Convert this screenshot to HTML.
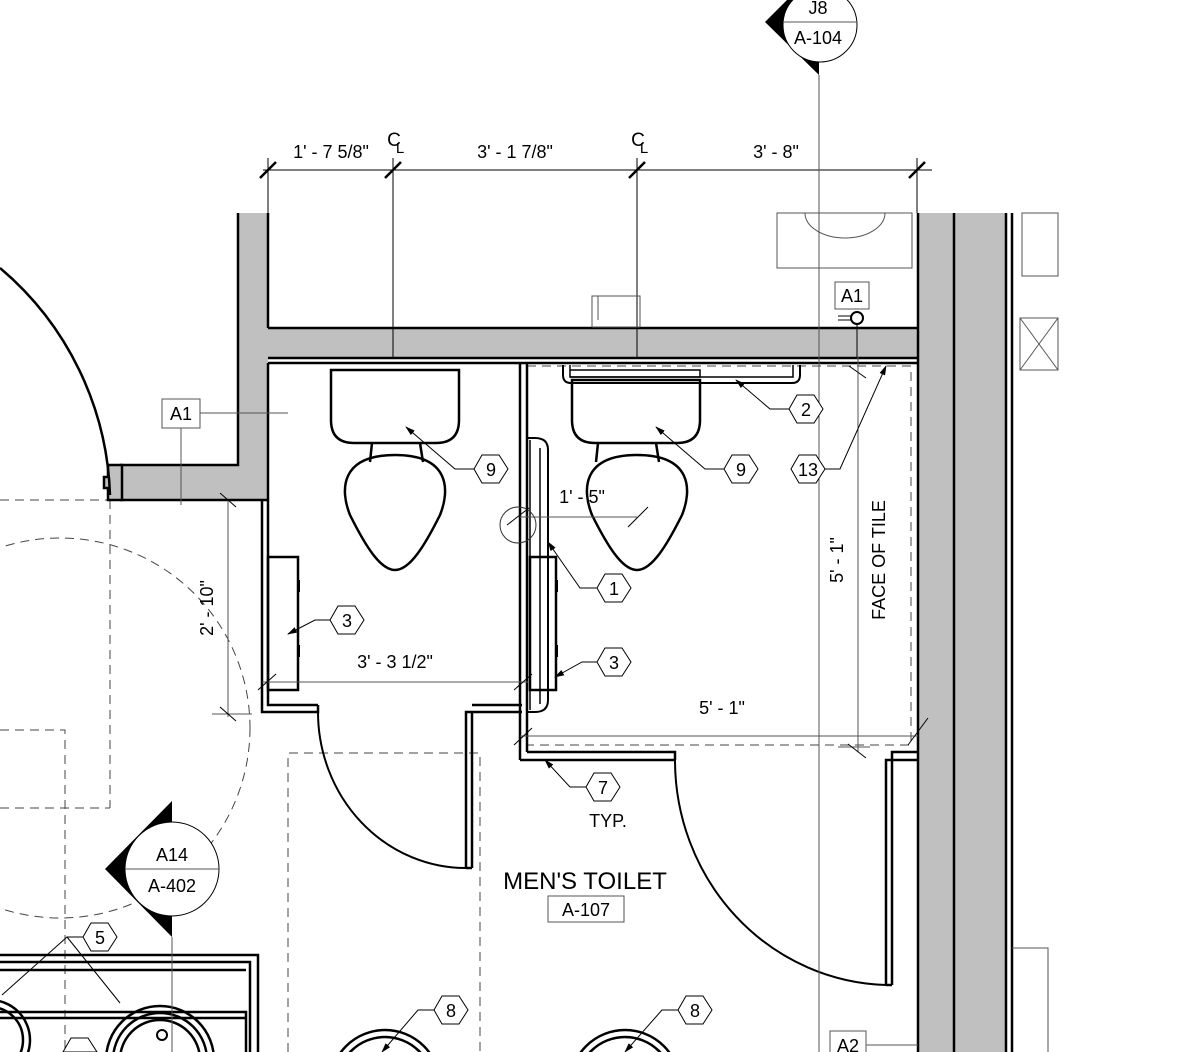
<!DOCTYPE html>
<html><head><style>html,body{margin:0;padding:0;background:#fff;width:1204px;height:1052px;overflow:hidden}svg{display:block}
text{font-family:"Liberation Sans",sans-serif;fill:#000}</style></head><body>
<svg width="1204" height="1052" viewBox="0 0 1204 1052" xmlns="http://www.w3.org/2000/svg">
<defs>
<marker id="ar" markerWidth="10" markerHeight="6" refX="9" refY="3" orient="auto" markerUnits="userSpaceOnUse"><path d="M0,0 L10,3 L0,6 z" fill="#000"/></marker>
</defs>
<g fill="none" stroke="#444" stroke-width="1" stroke-dasharray="9,6">
<circle cx="60" cy="728" r="190"/>
<line x1="110" y1="500" x2="110" y2="808"/>
<line x1="0" y1="500" x2="110" y2="500"/>
<path d="M0,808 H110"/>
<path d="M0,730 H65 V1052"/>
<path d="M288,1052 V753 H480 V1052"/>
<rect x="527" y="366" width="384" height="379"/>
</g>
<g fill="#c0c0c0" stroke="none">
<path d="M238,213 H268 V500 H110 V465 H238 Z"/>
<rect x="268" y="328" width="650" height="29"/>
<rect x="918" y="213" width="36" height="839"/>
<rect x="955" y="213" width="50" height="839"/>
</g>
<g fill="none" stroke="#000" stroke-width="2.5">
<path d="M238,213 V465 H120"/>
<path d="M120,500 H268"/>
<path d="M268,328 H918"/>
<line x1="268" y1="213" x2="268" y2="328"/>
<line x1="918" y1="213" x2="918" y2="1052"/>
<line x1="954" y1="213" x2="954" y2="1052"/>
<line x1="1006" y1="213" x2="1006" y2="1052"/>
<line x1="1012" y1="213" x2="1012" y2="1052"/>
<path d="M108,465 H122 V500 H108 V488 H104 V477 H108 Z" fill="#c0c0c0"/>
<line x1="268" y1="358" x2="918" y2="358"/>
<line x1="268" y1="363" x2="918" y2="363"/>
<path d="M262,500 V712 H318 V705"/>
<path d="M268,363 V705 H318"/>
<path d="M466,868 V712 H522"/>
<path d="M472,868 V712"/>
<path d="M472,705 H522"/>
<path d="M466,868 H472"/>
<path d="M318,712 A148,156 0 0 0 466,868" stroke-width="2"/>
<line x1="520" y1="363" x2="520" y2="760"/>
<line x1="527" y1="363" x2="527" y2="752"/>
<path d="M520,760 H675"/>
<path d="M527,752 H675 V760"/>
<path d="M886,985 V760 H918"/>
<path d="M892,985 V752 H918"/>
<path d="M886,985 H892"/>
<path d="M675,760 A217,225 0 0 0 886,985" stroke-width="2"/>
<path d="M331,370 H459 V420 Q459,443 436,443 H354 Q331,443 331,420 Z"/>
<path d="M372,443 L370,462 M420,443 L423,462"/>
<path d="M395,455 C450,455 450,490 440,515 C425,545 410,570 395,570 C380,570 365,545 350,515 C340,490 340,455 395,455 Z"/>
<path d="M572,380 H700 V420 Q700,443 677,443 H595 Q572,443 572,420 Z"/>
<path d="M598,443 L596,462 M656,443 L659,462"/>
<path d="M637,455 C692,455 692,490 682,515 C667,545 652,570 637,570 C622,570 607,545 592,515 C582,490 582,455 637,455 Z"/>
<path d="M563,365 V375 Q563,383 571,383 H792 Q800,383 800,375 V365" stroke-width="2"/>
<path d="M570,365 V377 H700 V370 H570" stroke-width="1.5"/>
<path d="M570,377 H793 V365" stroke-width="1.5"/>
<path d="M527,438 H535 Q548,438 548,450 V700 Q548,712 535,712 H527" stroke-width="2"/>
<path d="M530,440 V710 M540,448 V704" stroke-width="1.5"/>
<rect x="268" y="557" width="30" height="133"/>
<rect x="530" y="557" width="26" height="133"/>
</g>
<g fill="#000"><rect x="297" y="580" width="3" height="12"/><rect x="297" y="645" width="3" height="12"/><rect x="555" y="580" width="3" height="12"/><rect x="555" y="645" width="3" height="12"/></g>
<g fill="none" stroke="#000" stroke-width="1">
<line x1="263" y1="170" x2="932" y2="170"/>
<line x1="268" y1="158" x2="268" y2="213"/>
<line x1="393" y1="158" x2="393" y2="357"/>
<line x1="637" y1="158" x2="637" y2="357"/>
<line x1="917" y1="158" x2="917" y2="213"/>
<line x1="819" y1="75" x2="819" y2="1052" stroke="#555"/>
<rect x="777" y="213" width="135" height="55" stroke="#555"/>
<path d="M805,213 A40,25 0 0 0 885,213" stroke="#555"/>
<rect x="592" y="296" width="48" height="31" stroke="#555"/>
<line x1="598" y1="296" x2="598" y2="320" stroke="#555"/>
<rect x="1022" y="213" width="36" height="63" stroke="#555"/>
<rect x="1020" y="318" width="38" height="52" stroke="#555"/>
<path d="M1020,318 L1058,370 M1058,318 L1020,370" stroke="#555"/>
<path d="M1012,948 H1048 V1052" stroke="#555"/>
<path d="M0,268 A310,310 0 0 1 110,495" stroke-width="2.5"/>
<circle cx="857" cy="318" r="6" stroke-width="2"/>
<path d="M838,316 H851 M838,320 H851"/>
<line x1="857" y1="324" x2="857" y2="357"/>
<line x1="520" y1="517" x2="637" y2="517" stroke="#555"/>
<circle cx="518" cy="525" r="18" stroke="#333"/>
<line x1="262" y1="682" x2="528" y2="682" stroke="#555"/>
<line x1="228" y1="500" x2="228" y2="717" stroke="#555"/>
<line x1="212" y1="714" x2="252" y2="714" stroke="#555"/>
<line x1="520" y1="736" x2="918" y2="736" stroke="#555"/>
<line x1="858" y1="357" x2="858" y2="752" stroke="#555"/>
<line x1="838" y1="747" x2="870" y2="747" stroke="#555"/>
<g stroke-width="1"><path d="M220,493 L236,507 M220,707 L236,721 M258,690 L276,674 M514,690 L532,674 M507,525 L529,508 M628,527 L648,507 M514,745 L532,728 M908,745 L928,718 M849,366 L866,378 M848,744 L866,758"/></g>
<path d="M474,469 H455 L406,427" marker-end="url(#ar)"/>
<path d="M724,469 H705 L656,427" marker-end="url(#ar)"/>
<path d="M789,409 H770 L736,380" marker-end="url(#ar)"/>
<path d="M825,469 H840 L886,366" marker-end="url(#ar)"/>
<path d="M597,588 H580 L548,542" marker-end="url(#ar)"/>
<path d="M330,620 H315 L288,634" marker-end="url(#ar)"/>
<path d="M597,662 H582 L555,677" marker-end="url(#ar)"/>
<path d="M586,787 H570 L545,760" marker-end="url(#ar)"/>
<path d="M83,937 H67 L2,995 M67,937 L120,1003"/>
<path d="M434,1010 H418 L382,1052" marker-end="url(#ar)"/>
<path d="M678,1010 H662 L625,1052" marker-end="url(#ar)"/>
<path d="M200,413 H288 M181,428 V505" stroke="#555"/>
</g>
<g stroke="#000" stroke-width="2.5"><path d="M260,178 L276,162 M385,178 L401,162 M629,178 L645,162 M909,178 L925,162"/></g>
<g fill="none" stroke="#000" stroke-width="2.5">
<path d="M0,955 H258 V1052 M0,962 H250 V1052 M0,970 H246"/>
<path d="M0,1012 H246 V1052 M0,1018 H246"/>
<circle cx="160" cy="1060" r="54"/><circle cx="160" cy="1060" r="47"/><circle cx="160" cy="1060" r="40"/>
<circle cx="-10" cy="1040" r="40"/><circle cx="-10" cy="1040" r="33"/>
<circle cx="385" cy="1085" r="55"/><circle cx="385" cy="1085" r="48"/>
<circle cx="625" cy="1085" r="55"/><circle cx="625" cy="1085" r="48"/>
<circle cx="162" cy="1035" r="5" stroke-width="2"/>
</g>
<path d="M765,22 L819,-32 L819,75 Z" fill="#000"/>
<circle cx="820" cy="25" r="37" fill="#fff" stroke="#000" stroke-width="1"/>
<line x1="783" y1="22" x2="857" y2="22" stroke="#555"/>
<text x="818" y="14" font-size="18" text-anchor="middle">J8</text>
<text x="818" y="44" font-size="18" text-anchor="middle">A-104</text>
<path d="M105,869 L172,801 L172,937 Z" fill="#000"/>
<circle cx="172" cy="869" r="47" fill="#fff" stroke="#000" stroke-width="1"/>
<line x1="125" y1="869" x2="219" y2="869" stroke="#555"/>
<text x="172" y="861" font-size="18" text-anchor="middle">A14</text>
<text x="172" y="892" font-size="18" text-anchor="middle">A-402</text>
<line x1="172" y1="937" x2="172" y2="1052" stroke="#555"/>
<g fill="#fff" stroke="#000" stroke-width="1">
<polygon points="474,469 482,455 499,455 508,469 499,483 482,483"/>
<polygon points="724,469 732,455 749,455 758,469 749,483 732,483"/>
<polygon points="789,409 797,395 814,395 823,409 814,423 797,423"/>
<polygon points="791,469 799,455 816,455 825,469 816,483 799,483"/>
<polygon points="597,588 605,574 622,574 631,588 622,602 605,602"/>
<polygon points="330,620 338,606 355,606 364,620 355,634 338,634"/>
<polygon points="597,662 605,648 622,648 631,662 622,676 605,676"/>
<polygon points="586,787 594,773 611,773 620,787 611,801 594,801"/>
<polygon points="83,937 91,923 108,923 117,937 108,951 91,951"/>
<polygon points="434,1010 442,996 459,996 468,1010 459,1024 442,1024"/>
<polygon points="678,1010 686,996 703,996 712,1010 703,1024 686,1024"/>
<polygon points="63,1052 71,1038 88,1038 97,1052"/>
</g>
<g font-size="18" text-anchor="middle">
<text x="491" y="476">9</text><text x="741" y="476">9</text><text x="806" y="416">2</text>
<text x="808" y="476">13</text><text x="614" y="595">1</text><text x="347" y="627">3</text>
<text x="614" y="669">3</text><text x="603" y="794">7</text><text x="100" y="944">5</text>
<text x="451" y="1017">8</text><text x="695" y="1017">8</text>
</g>
<g fill="#fff" stroke="#555" stroke-width="1">
<rect x="162" y="399" width="38" height="29"/><rect x="835" y="282" width="34" height="27"/>
<rect x="830" y="1031" width="36" height="30"/><rect x="548" y="896" width="76" height="26"/>
</g>
<line x1="866" y1="1045" x2="918" y2="1045" stroke="#555"/>
<g font-size="18" text-anchor="middle">
<text x="181" y="420">A1</text><text x="852" y="302">A1</text><text x="848" y="1052">A2</text>
<text x="586" y="916">A-107</text>
<text x="331" y="158">1' - 7 5/8"</text><text x="515" y="158">3' - 1 7/8"</text><text x="776" y="158">3' - 8"</text>
<text x="582" y="503">1' - 5"</text><text x="395" y="668">3' - 3 1/2"</text><text x="722" y="714">5' - 1"</text>
<text x="608" y="827">TYP.</text>
<text transform="translate(213,608) rotate(-90)">2' - 10"</text>
<text transform="translate(843,560) rotate(-90)">5' - 1"</text>
<text transform="translate(885,560) rotate(-90)">FACE OF TILE</text>
<text x="394" y="146" font-size="19">C</text><text x="400" y="153" font-size="15">L</text>
<text x="638" y="146" font-size="19">C</text><text x="644" y="153" font-size="15">L</text>
</g>
<text x="585" y="889" font-size="24" text-anchor="middle">MEN'S TOILET</text>
</svg>
</body></html>
